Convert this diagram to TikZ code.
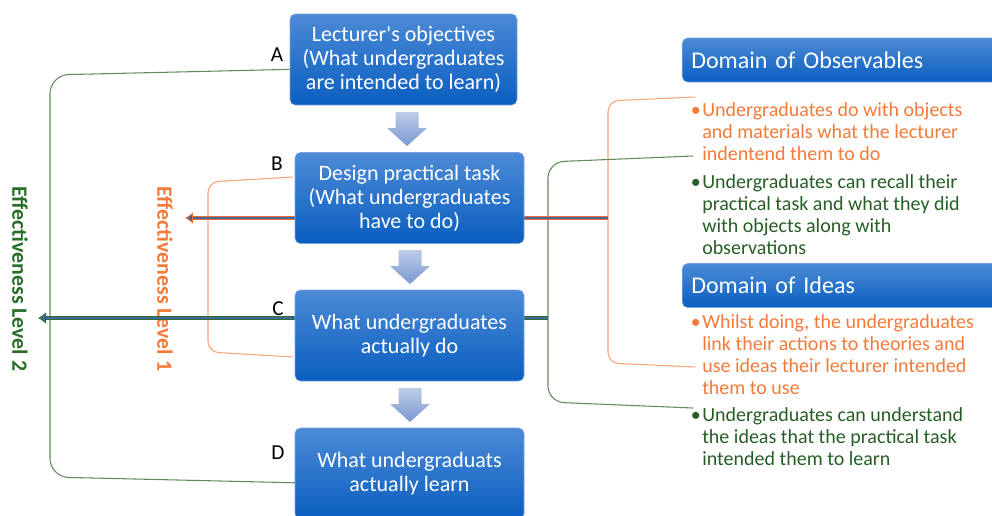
\documentclass[tikz,border=0pt]{standalone}
\usepackage{fontspec}
\setmainfont{Carlito}
\usetikzlibrary{arrows.meta}

\definecolor{boxtop}{RGB}{76,138,214}
\definecolor{boxbottom}{RGB}{10,94,192}
\definecolor{boxedge}{RGB}{120,165,225}
\definecolor{chevtop}{RGB}{190,204,230}
\definecolor{chevbottom}{RGB}{122,152,210}
\definecolor{obsorange}{RGB}{244,122,58}
\definecolor{bracketorange}{RGB}{250,165,120}
\definecolor{arroworange}{RGB}{236,110,50}
\definecolor{ideagreen}{RGB}{38,94,38}
\definecolor{bracketgreen}{RGB}{96,140,90}
\definecolor{arrowgreen}{RGB}{40,110,40}
\definecolor{arrowblue}{RGB}{72,100,160}

\begin{document}
\begin{tikzpicture}[x=0.75pt,y=0.75pt,yscale=-1,xscale=1,
  stagebox/.style={rounded corners=4pt, top color=boxtop, bottom color=boxbottom, draw=boxedge, line width=0.4pt, text=white, align=center, minimum width=171.75pt, minimum height=68.25pt, inner sep=0pt, font=\fontsize{16.5}{18}\selectfont},
  domainbox/.style={rounded corners=4pt, top color=boxtop, bottom color=boxbottom, draw=boxedge, line width=0.4pt, text=white, anchor=west, text width=226pt, minimum height=33pt, inner xsep=6.75pt, inner ysep=0pt, align=left, font=\fontsize{18}{20}\selectfont},
  point/.style={anchor=base west, align=left, inner sep=0pt, font=\fontsize{15}{16.5}\selectfont},
  letter/.style={inner sep=0pt, font=\fontsize{16}{18}\selectfont},
  level/.style={rotate=-90, inner sep=0pt, font=\bfseries\fontsize{16.4}{18}\selectfont},
  levelarrow/.style={line width=3pt, -{Latex[length=6pt,width=8.5pt,line width=0.7pt,fill=arrowblue]}}]
\useasboundingbox (0,0) rectangle (992,515);

% Level labels
\node[level, text=arrowgreen] (levelTwo) at (20,279) {Effectiveness Level 2};
\node[level, text=obsorange] (levelOne) at (165,279) {Effectiveness Level 1};

% Bracket ends
\coordinate (aIn) at (305,69);
\coordinate (dIn) at (305,483);
\coordinate (bIn) at (293,177);
\coordinate (cIn) at (293,357);
\coordinate (obsTop) at (695,97);
\coordinate (ideaBot) at (695,367);
\coordinate (recallTop) at (693,156);
\coordinate (learnBot) at (693,408);

% Brackets
\draw[bracketgreen, line width=0.8pt, rounded corners=14pt] (aIn) -- (50,75) -- (50,477) -- (dIn);
\draw[bracketorange, line width=0.8pt, rounded corners=8pt] (bIn) -- (208,182) -- (208,352) -- (cIn);
\draw[bracketorange, line width=0.8pt, rounded corners=8pt] (obsTop) -- (608,101) -- (608,363) -- (ideaBot);
\draw[bracketgreen, line width=0.8pt, rounded corners=12pt] (recallTop) -- (548,162) -- (548,402) -- (learnBot);

% Level arrows
\coordinate (orStart) at (608,218);
\coordinate (orTip) at (185,218);
\coordinate (grStart) at (548,318);
\coordinate (grTip) at (38,318);
\draw[levelarrow, arroworange] (orStart) -- (orTip);
\draw[arrowblue, line width=1.8pt] (orStart) -- (193,218);
\draw[levelarrow, arrowgreen] (grStart) -- (grTip);
\draw[arrowblue, line width=1.8pt] (grStart) -- (46,318);

% Stage boxes
\node[stagebox, minimum width=170.25pt] (objectives) at (403.5,59.5) {Lecturer\textquotesingle s objectives\\(What undergraduates\\are intended to learn)};
\node[stagebox] (design) at (409.5,198) {Design practical task\\(What undergraduates\\have to do)};
\node[stagebox] (doing) at (409.5,335.5) {What undergraduates\\actually do};
\node[stagebox] (learning) at (409.5,473.5) {What undergraduats\\actually learn};

% Down arrows
\foreach \cx/\ty in {407/112,410/250,410/388}
  \shade[top color=chevtop, bottom color=chevbottom] (\cx-11.5,\ty) -- (\cx+11.5,\ty) -- (\cx+11.5,\ty+16) -- (\cx+20,\ty+16) -- (\cx,\ty+34) -- (\cx-20,\ty+16) -- (\cx-11.5,\ty+16) -- cycle;

% Letters
\node[letter] (labA) at (277,55) {A};
\node[letter] (labB) at (277,164) {B};
\node[letter] (labC) at (278,308.5) {C};
\node[letter] (labD) at (278,453) {D};

% Domains
\node[domainbox] (observables) at (682,60) {Domain of Observables};
\node[domainbox] (ideas) at (682,285.5) {Domain of Ideas};

% Text Node
\node[point, text=obsorange] (obsDo) at (702,160) {\llap{\textbullet\hspace{1pt}}Undergraduates do with objects\\and materials what the lecturer\\indentend them to do};
\node[point, text=ideagreen] (obsRecall) at (702,254) {\llap{\textbullet\hspace{1pt}}Undergraduates can recall their\\practical task and what they did\\with objects along with\\observations};
\node[point, text=obsorange] (ideaLink) at (702,394) {\llap{\textbullet\hspace{1pt}}Whilst doing, the undergraduates\\link their actions to theories and\\use ideas their lecturer intended\\them to use};
\node[point, text=ideagreen] (ideaLearn) at (702,465) {\llap{\textbullet\hspace{1pt}}Undergraduates can understand\\the ideas that the practical task\\intended them to learn};

\end{tikzpicture}
\end{document}
